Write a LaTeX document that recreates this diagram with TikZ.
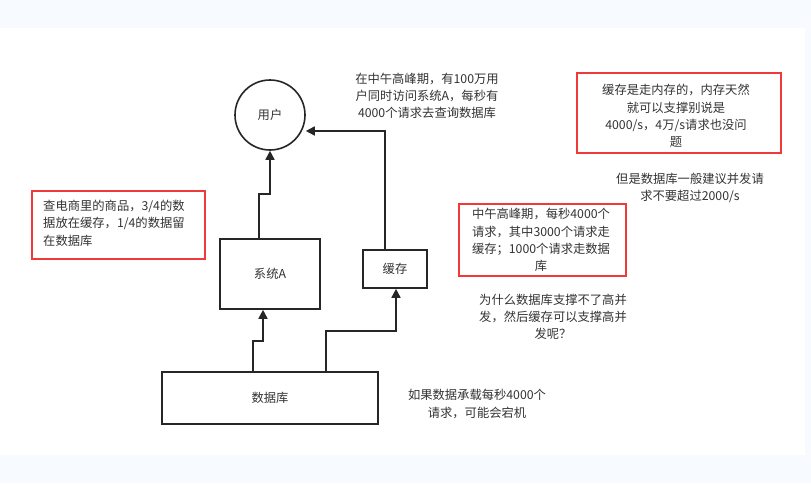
\documentclass[tikz,border=0pt]{standalone}
\usepackage{fontspec}
\setmainfont{Noto Sans CJK SC}
\usetikzlibrary{arrows.meta}
\definecolor{bg}{HTML}{F7FBFF}
\definecolor{red1}{HTML}{F03A3A}
\definecolor{tx}{HTML}{333333}
\begin{document}
\begin{tikzpicture}[x=1pt,y=-1pt,
  box/.style={draw=black!85,line width=1.6pt,inner sep=0pt},
  redbox/.style={draw=red1,line width=2pt,inner sep=0pt},
  txt/.style={text=tx,font=\fontsize{12.3}{17.3}\selectfont,align=center,inner sep=0pt},
  conn/.style={draw=black!85,line width=1.6pt,-{Triangle[length=9pt,width=9pt]}}]
\fill[bg] (0,0) rectangle (811,483);
\fill[white] (0,28) rectangle (805,455);
\node[box,circle,minimum size=70pt,txt] (user) at (270,115) {用户};
\node[box,minimum width=100pt,minimum height=70pt,txt] (sysa) at (270,274) {系统A};
\node[box,minimum width=64pt,minimum height=38pt,txt] (cache) at (395,269) {缓存};
\node[box,minimum width=216pt,minimum height=52pt,txt] (db) at (270,398) {数据库};
\draw[conn] (sysa.north -| 259,0) |- (270,194) -- (user.south);
\draw[conn] (cache.north -| 385,0) |- (user.east |- 0,131);
\draw[conn] (db.north -| 253,0) |- (263,341) -- (sysa.south -| 263,0);
\draw[conn] (db.north -| 326,0) |- (396,331) -- (cache.south -| 396,0);
\node[redbox,minimum width=173pt,minimum height=68pt] (r1) at (118.5,225) {};
\node[txt,align=left,anchor=north west] (t1) at (43,200) {查电商里的商品，3/4的数\\据放在缓存，1/4的数据留\\在数据库};
\node[redbox,minimum width=167pt,minimum height=72pt] (r2) at (542.5,240) {};
\node[txt] (t2) at (541,240) {中午高峰期，每秒4000个\\请求，其中3000个请求走\\缓存；1000个请求走数据\\库};
\node[redbox,minimum width=204pt,minimum height=80pt] (r3) at (679,113) {};
\node[txt] (t3) at (676,116) {缓存是走内存的，内存天然\\就可以支撑别说是\\4000/s，4万/s请求也没问\\题};
\node[txt] (t4) at (427,96) {在中午高峰期，有100万用\\户同时访问系统A，每秒有\\4000个请求去查询数据库};
\node[txt] (t5) at (690,188) {但是数据库一般建议并发请\\求不要超过2000/s};
\node[txt] (t6) at (553,317) {为什么数据库支撑不了高并\\发，然后缓存可以支撑高并\\发呢？};
\node[txt] (t7) at (477,404) {如果数据承载每秒4000个\\请求，可能会宕机};
\end{tikzpicture}
\end{document}
